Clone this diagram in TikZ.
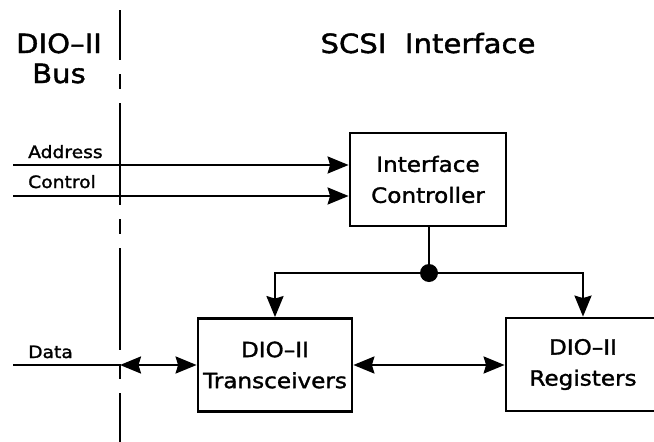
\documentclass[tikz,border=0pt]{standalone}
\usepackage{fontspec}
\setmainfont[FakeStretch=1.1,FakeBold=1.5]{DejaVu Sans}
\usetikzlibrary{arrows.meta}
\tikzset{
  tip/.tip={Stealth[length=21pt,width=17pt,inset=2.5pt]},
  wire/.style={line width=2.4pt},
  arr/.style={wire,-tip},
  darr/.style={wire,tip-tip},
  box/.style={draw,line width=2.8pt,minimum width=154pt,minimum height=93pt,align=center,inner sep=0pt,
    font=\fontsize{21}{31}\selectfont},
  title/.style={align=center,inner sep=0pt,font=\fontsize{26.5}{30}\selectfont},
  sig/.style={anchor=base west,inner sep=0pt,font=\fontsize{17}{20}\selectfont},
  busline/.style={line width=2.4pt,dash pattern=on 102pt off 14pt on 15pt off 14pt,dash phase=52pt}
}
\begin{document}
\begin{tikzpicture}[x=1pt,y=-1pt]
\useasboundingbox (0,0) rectangle (654,442);
\clip (0,0) rectangle (654,442);
% titles
\node[title,anchor=base] (t1) at (59,53) {DIO–II};
\node[title,anchor=base] (t2) at (59,83) {Bus};
\node[title,anchor=base] (t3) at (428,53) {SCSI\ \ Interface};
% bus boundary
\coordinate (bt) at (120,10);
\coordinate (bb) at (120,442);
\draw[busline] (bt) -- (bb);
% boxes
\node[box,minimum width=156pt] (ctrl) at (428,179.5) {Interface\\Controller};
\node[box] (trans) at (275,365) {DIO–II\\Transceivers};
\node[box] (regs) at (583,364.5) {DIO–II\\Registers};
% signals
\node[sig] (la) at (28,158) {Address};
\node[sig] (lc) at (28,188) {Control};
\node[sig] (ld) at (28,358) {Data};
\coordinate (aL) at (13,165);
\coordinate (cL) at (13,196);
\coordinate (dL) at (13,365);
\coordinate (dM) at (120,365);
\draw[arr] (aL) -- (ctrl.west |- aL);
\draw[arr] (cL) -- (ctrl.west |- cL);
\draw[wire] (dL) -- (dM);
\draw[darr] (dM) -- (trans.west);
\draw[darr] (trans.east) -- (regs.west |- trans.east);
% distribution
\node[circle,fill,inner sep=0pt,minimum size=18pt] (dot) at (429,273) {};
\draw[wire] (ctrl.south -| dot) -- (dot);
\draw[arr] (dot) -| (trans.north);
\draw[arr] (dot) -| (regs.north);
\end{tikzpicture}
\end{document}
